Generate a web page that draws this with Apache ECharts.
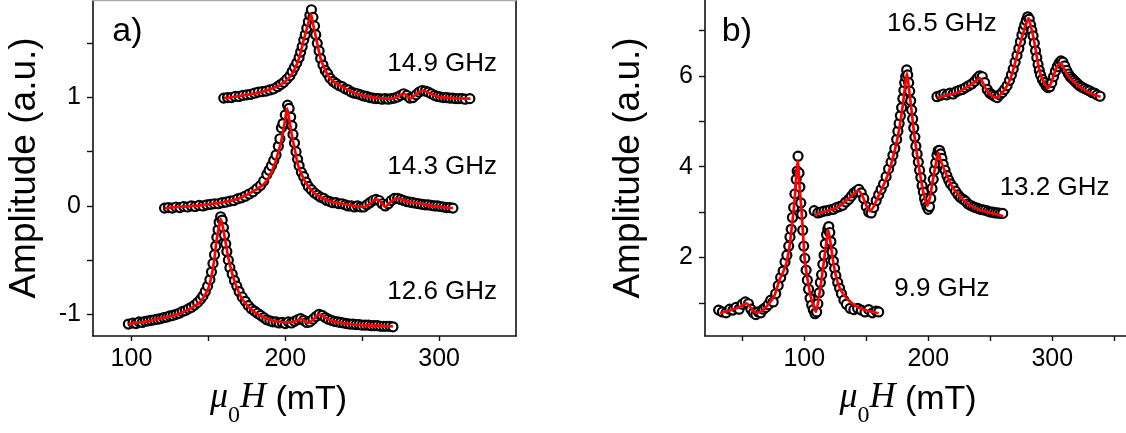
<!DOCTYPE html>
<html>
<head>
<meta charset="utf-8">
<script src="https://cdn.jsdelivr.net/npm/echarts@6/dist/echarts.min.js"></script>
<style>
  html, body { margin: 0; padding: 0; background: #fff; }
  #chart { width: 1126px; height: 433px; }
</style>
</head>
<body>
<div id="chart"></div>
<script>
// ---------- panel a: FMR spectra (measured points and fits), offset per frequency ----------
const freqsA = ['14.9 GHz', '14.3 GHz', '12.6 GHz'];

const meas149 = [[160,0.995],[162.5,1.0],[165,1.0],[167.5,1.01],[170,1.01],[172.5,1.02],[175,1.025],[177.5,1.03],[180,1.04],[182.5,1.05],[185,1.055],[187.5,1.06],[190,1.07],[192.5,1.08],[195,1.1],[197,1.12],[199,1.14],[201,1.17],[203,1.2],[204.5,1.24],[206,1.28],[207.5,1.32],[209,1.37],[210,1.42],[211,1.47],[212,1.53],[213,1.58],[214,1.64],[215,1.7],[216,1.76],[217,1.81],[218,1.74],[219,1.66],[219.8,1.58],[220.8,1.5],[222,1.43],[223,1.36],[224.5,1.3],[226,1.25],[227.5,1.22],[229,1.18],[231,1.15],[233,1.13],[235,1.11],[237,1.1],[239,1.08],[241,1.07],[243,1.05],[245,1.04],[247,1.035],[249,1.025],[251,1.015],[253,1.01],[255,1.0],[257,0.995],[259,0.99],[261,0.99],[263,0.985],[265,0.99],[267,0.985],[269,0.99],[271,0.995],[273,1.005],[275,1.02],[277,1.035],[279,1.02],[281,0.995],[283,1.0],[285,1.025],[287,1.05],[289,1.065],[291,1.06],[293,1.05],[295,1.035],[297,1.02],[299,1.01],[301,1.005],[303,1.0],[305,1.0],[307,0.995],[309,0.995],[311,0.99],[313,0.99],[315,0.99],[317,0.985],[320,0.99]];
const fit149 = [[160,0.995],[168,1.01],[176.8,1.03],[184,1.05],[190.7,1.08],[196,1.11],[200,1.15],[204,1.21],[207,1.29],[209.5,1.39],[211.6,1.51],[213.5,1.61],[215,1.69],[216.7,1.77],[218.2,1.67],[219.7,1.57],[221.5,1.45],[223.2,1.35],[225.5,1.27],[227.9,1.2],[232,1.14],[237,1.1],[242,1.06],[246.4,1.035],[252,1.015],[260,0.995],[268,0.99],[272,1.0],[277,1.035],[279,1.02],[281.3,0.99],[285,1.03],[289.5,1.065],[294,1.04],[300,1.005],[310,0.995],[320.4,0.99]];

const meas143 = [[121.5,-0.02],[124,-0.015],[126.5,-0.02],[129,-0.01],[131.5,-0.015],[134,-0.005],[136.5,-0.01],[139,0.0],[141.5,-0.005],[144,0.005],[146.5,0.0],[149,0.01],[151.5,0.015],[154,0.02],[156.5,0.02],[159,0.03],[161.5,0.035],[164,0.045],[166.5,0.05],[169,0.065],[171.5,0.075],[174,0.09],[176.5,0.11],[179,0.13],[181.5,0.16],[184,0.19],[186,0.23],[188,0.29],[189.5,0.33],[191,0.37],[192.5,0.42],[194,0.47],[195.5,0.55],[196.5,0.62],[197.5,0.72],[198.5,0.76],[200,0.84],[201.5,0.93],[202.5,0.9],[203.5,0.82],[204.3,0.74],[205,0.66],[206,0.58],[207,0.5],[208,0.43],[209,0.37],[210.5,0.31],[212,0.27],[213.5,0.22],[215,0.18],[217,0.15],[219,0.12],[221,0.1],[223,0.08],[225,0.07],[227,0.05],[229,0.04],[231,0.03],[233,0.03],[235,0.02],[237,0.02],[239,0.01],[241,0.0],[243,0.0],[245,-0.01],[247,0.0],[249,-0.01],[251,-0.01],[253,0.01],[255,0.03],[257,0.05],[259,0.06],[261,0.05],[263,0.02],[265,0.0],[267,0.02],[269,0.05],[271,0.07],[273,0.07],[275,0.06],[277,0.05],[279,0.04],[281,0.035],[283,0.03],[285,0.025],[287,0.02],[289,0.015],[291,0.01],[293,0.01],[295,0.005],[297,0.0],[299,0.0],[301,-0.005],[303,-0.01],[305,-0.015],[307,-0.015],[309,-0.02]];
const fit143 = [[121.5,-0.02],[130,-0.01],[140,0.0],[150,0.015],[160,0.035],[170,0.07],[176,0.11],[181,0.15],[186,0.2],[190,0.28],[193,0.38],[195.5,0.5],[197.7,0.62],[199.5,0.76],[201.2,0.9],[203,0.76],[204.7,0.62],[206.5,0.5],[208.2,0.38],[211,0.28],[214,0.2],[218,0.13],[223,0.08],[230,0.04],[237,0.02],[245,0.0],[251,-0.01],[255,0.02],[259,0.06],[262,0.04],[265,-0.01],[268,0.03],[272,0.07],[276,0.06],[280,0.04],[288,0.02],[295,0.0],[302,-0.01],[309,-0.02]];

const meas126 = [[98,-1.09],[101,-1.08],[103,-1.085],[105,-1.07],[107,-1.075],[109,-1.065],[111,-1.06],[113,-1.055],[115,-1.05],[117,-1.045],[119,-1.04],[121,-1.03],[123,-1.025],[125,-1.015],[127,-1.01],[129,-1.0],[131,-0.99],[133,-0.975],[135,-0.965],[137,-0.95],[139,-0.935],[141,-0.915],[143,-0.89],[145,-0.86],[146.5,-0.83],[148,-0.79],[149.5,-0.74],[151,-0.68],[152,-0.61],[153,-0.53],[154,-0.45],[154.8,-0.37],[155.5,-0.29],[156.3,-0.22],[157,-0.15],[158,-0.1],[159,-0.13],[159.8,-0.2],[160.5,-0.27],[161.3,-0.35],[162,-0.42],[163,-0.5],[164,-0.57],[165.5,-0.63],[167,-0.69],[168.5,-0.74],[170,-0.79],[172,-0.84],[174,-0.88],[176,-0.92],[178,-0.95],[180,-0.97],[182,-0.99],[184,-1.01],[186,-1.03],[188,-1.05],[190,-1.06],[192,-1.07],[194,-1.07],[196,-1.08],[198,-1.075],[200,-1.085],[202,-1.07],[204,-1.08],[206,-1.065],[208,-1.05],[210,-1.04],[212,-1.055],[214,-1.075],[216,-1.07],[218,-1.045],[220,-1.02],[222,-1.0],[224,-1.01],[226,-1.03],[228,-1.045],[230,-1.055],[232,-1.065],[234,-1.07],[236,-1.075],[238,-1.08],[240,-1.085],[242,-1.09],[244,-1.09],[246,-1.095],[248,-1.095],[250,-1.1],[252,-1.1],[254,-1.1],[256,-1.105],[258,-1.105],[260,-1.105],[262,-1.11],[264,-1.11],[266,-1.11],[268,-1.11],[270,-1.115]];
const fit126 = [[98,-1.09],[105,-1.075],[110,-1.065],[115,-1.05],[120,-1.035],[125,-1.02],[130,-1.0],[135,-0.97],[140,-0.93],[144,-0.895],[147,-0.84],[150,-0.76],[152,-0.65],[154,-0.48],[155,-0.35],[156.5,-0.22],[158,-0.12],[159.5,-0.2],[161,-0.32],[163,-0.48],[166,-0.65],[169,-0.77],[172,-0.86],[176,-0.93],[180,-0.98],[185,-1.02],[190,-1.05],[195,-1.065],[200,-1.075],[205,-1.07],[208,-1.055],[210.5,-1.045],[213,-1.065],[215,-1.08],[218,-1.05],[222,-1.0],[226,-1.03],[230,-1.06],[240,-1.085],[250,-1.1],[260,-1.105],[270,-1.112]];

// ---------- panel b ----------
const freqsB = ['16.5 GHz', '13.2 GHz', '9.9 GHz'];

const meas165 = [[207,5.54],[210,5.57],[212.5,5.6],[215,5.58],[217.5,5.62],[220,5.6],[222.5,5.65],[225,5.68],[227.5,5.7],[230,5.74],[232.5,5.78],[235,5.82],[237.5,5.88],[239.5,5.95],[241.5,6.0],[243.5,5.98],[245.5,5.85],[247.5,5.7],[249.5,5.62],[251.5,5.58],[253.5,5.55],[255.5,5.52],[257.5,5.58],[259.5,5.63],[261.5,5.7],[263.5,5.78],[265.5,5.9],[267,6.02],[268.5,6.15],[270,6.3],[271.5,6.45],[273,6.6],[274.3,6.75],[275.5,6.9],[276.7,7.02],[277.8,7.12],[279,7.22],[280.2,7.3],[281.4,7.25],[282.5,7.12],[283.5,7.0],[284.5,6.88],[285.5,6.72],[286.5,6.55],[287.5,6.4],[288.5,6.25],[289.5,6.12],[290.5,6.02],[292,5.92],[293.5,5.85],[295,5.78],[296.5,5.74],[298,5.76],[299.5,5.85],[301,5.98],[302.5,6.1],[304,6.2],[305.5,6.28],[307,6.33],[308.5,6.3],[310,6.22],[311.5,6.12],[313,6.04],[314.5,5.98],[316,5.94],[317.5,5.9],[319,5.86],[320.5,5.82],[322,5.78],[324,5.75],[326,5.72],[328,5.69],[330,5.67],[332,5.63],[334,5.62],[336,5.58],[338.5,5.55]];
const fit165 = [[207.3,5.52],[215,5.57],[222.7,5.62],[228,5.7],[234.3,5.8],[238,5.88],[241.5,5.95],[244,5.85],[247,5.68],[251,5.57],[254.6,5.52],[258,5.58],[263.3,5.77],[267,6.0],[270.6,6.35],[273.5,6.65],[276.5,6.94],[278.8,7.15],[280.8,7.27],[283,7.05],[285.2,6.79],[287.3,6.45],[289.5,6.13],[292,5.92],[294.5,5.8],[296.8,5.73],[299.5,5.88],[302.6,6.13],[305,6.25],[306.9,6.28],[309.5,6.15],[312.8,5.99],[317,5.88],[321.5,5.77],[327,5.67],[333.1,5.59],[338.9,5.54]];

const meas132 = [[108,3.03],[111,2.98],[113.5,3.0],[116,3.02],[118.5,3.03],[121,3.05],[123.5,3.06],[126,3.1],[128.5,3.12],[131,3.15],[133.5,3.22],[136,3.28],[138,3.35],[140,3.42],[142,3.46],[144,3.5],[146,3.42],[148,3.3],[150,3.12],[152,3.0],[154,2.98],[156,3.1],[158,3.25],[160,3.38],[162,3.5],[164,3.62],[166,3.78],[168,3.95],[170,4.1],[171.5,4.25],[173,4.4],[174.5,4.6],[175.5,4.78],[176.5,4.95],[177.5,5.12],[178.5,5.3],[179.5,5.5],[180.3,5.68],[181,5.85],[181.8,5.98],[182.6,6.13],[183.4,6.02],[184.2,5.85],[185,5.66],[185.8,5.45],[186.6,5.25],[187.4,5.05],[188.3,4.85],[189.2,4.65],[190,4.45],[191,4.28],[192,4.1],[193,3.92],[194,3.76],[195,3.58],[196,3.44],[197,3.3],[198,3.2],[199,3.12],[200,3.06],[201,3.12],[202,3.3],[203,3.52],[204,3.72],[205,3.92],[206,4.08],[207,4.25],[208,4.35],[209,4.36],[210,4.28],[211,4.18],[212,4.05],[213.5,3.92],[215,3.8],[216.5,3.7],[218,3.62],[220,3.55],[222,3.46],[224,3.38],[226,3.32],[228,3.28],[230,3.24],[232,3.18],[234,3.15],[236,3.12],[238,3.1],[240,3.08],[242,3.06],[244,3.05],[246,3.04],[248,3.02],[250,3.0],[252,3.0],[254,2.98],[256,2.98],[258,2.97],[260,2.97]];
const fit132 = [[108.7,2.94],[115,3.0],[123.9,3.07],[130,3.16],[135.5,3.29],[140,3.4],[143.7,3.47],[147,3.35],[150,3.15],[152.9,3.02],[156,3.12],[158.7,3.29],[162,3.48],[166,3.72],[170,4.05],[173.2,4.38],[176.5,4.82],[179,5.26],[181,5.7],[182.8,6.06],[184.5,5.7],[186.4,5.26],[188.5,4.75],[190.7,4.31],[193,3.9],[195,3.58],[197.2,3.3],[199.4,3.14],[201.5,3.35],[203.8,3.72],[206,4.05],[208.1,4.31],[210.5,4.1],[213.9,3.87],[218,3.62],[222.7,3.43],[228,3.27],[234.3,3.14],[241,3.05],[248.8,2.99],[255,2.95],[260.4,2.91]];

const meas99 = [[31,0.84],[34,0.8],[37,0.78],[40,0.86],[42.5,0.84],[45,0.9],[47.5,0.86],[50,0.97],[52.5,1.02],[55,0.98],[57,0.86],[59,0.78],[61,0.74],[63,0.8],[65,0.78],[67,0.86],[69,0.9],[71,0.96],[73,1.06],[75,1.02],[77,1.2],[79,1.38],[81,1.56],[83,1.7],[84.5,1.9],[86,2.05],[87.5,2.25],[88.5,2.45],[89.5,2.62],[90.5,2.88],[91.5,3.1],[92.5,3.4],[93.5,3.72],[94.3,3.9],[95,4.23],[95.8,3.86],[96.5,3.55],[97.2,3.2],[98,2.95],[98.8,2.6],[99.6,2.25],[100.5,1.98],[101.5,1.72],[102.5,1.5],[103.5,1.3],[104.7,1.1],[106,0.95],[107.3,0.85],[108.7,0.76],[110,0.8],[111,0.98],[112,1.22],[113,1.45],[114,1.62],[115,1.85],[116,2.05],[117,2.3],[118,2.5],[119,2.62],[119.8,2.68],[120.6,2.55],[121.5,2.35],[122.5,2.12],[123.5,1.92],[124.5,1.76],[125.5,1.6],[127,1.45],[128.5,1.32],[130,1.2],[132,1.06],[134,0.97],[137,0.88],[140,0.85],[143,0.88],[146,0.84],[149,0.8],[152,0.85],[155,0.78],[158,0.82],[160,0.8]];
const fit99 = [[32,0.77],[40,0.83],[48,0.91],[53.5,0.99],[57,0.88],[61.5,0.78],[66,0.82],[72,1.0],[76,1.16],[80.4,1.53],[83,1.68],[85.8,1.9],[88,2.22],[89.8,2.63],[91.3,3.0],[92.5,3.36],[94.8,4.12],[96.4,3.5],[97.9,2.99],[99.3,2.4],[100.6,1.9],[102.8,1.5],[105,1.17],[107.2,0.95],[109.4,0.8],[111.7,1.1],[114,1.53],[115.8,1.9],[117.5,2.26],[119.4,2.6],[121,2.35],[123.4,1.9],[126.1,1.53],[129,1.3],[134.2,1.1],[140,0.96],[145,0.88],[152,0.82],[160,0.77]];

// ---------- tick positions ----------
const ticksAx = [100, 150, 200, 250, 300];
const labelsAx = [100, 200, 300];
const ticksAy = [-1, -0.5, 0, 0.5, 1, 1.5];
const labelsAy = [-1, 0, 1];
const ticksBx = [50, 100, 150, 200, 250, 300, 350];
const labelsBx = [100, 200, 300];
const ticksBy = [1, 2, 3, 4, 5, 6, 7];
const labelsBy = [2, 4, 6];

const SANS = '"Liberation Sans", Arial, sans-serif';
const SERIF = '"Liberation Serif", "Times New Roman", serif';

const titleX = '{it|μ}{sub|0}{it|H} (mT)';
const titleRich = {
  it: { fontFamily: SERIF, fontStyle: 'italic', fontSize: 36, lineHeight: 40, verticalAlign: 'top', color: '#000' },
  sub: { fontFamily: SERIF, fontSize: 24, lineHeight: 24, verticalAlign: 'bottom', color: '#000', padding: [0, 0, -8, 0] }
};

function xAxisCfg(grid, min, max, ticks, labels, namePadRight) {
  return {
    type: 'value', gridIndex: grid, position: 'bottom', min: min, max: max,
    axisLine: { onZero: false, lineStyle: { color: '#111', width: 1.6 } },
    axisTick: { show: true, inside: false, length: 5, customValues: ticks, lineStyle: { color: '#111', width: 1.4 } },
    axisLabel: { customValues: labels, fontSize: 25, fontFamily: SANS, color: '#000', margin: 11 },
    splitLine: { show: false },
    name: titleX, nameLocation: 'middle', nameGap: 44,
    nameTextStyle: { fontSize: 34, fontFamily: SANS, color: '#000', rich: titleRich, padding: [0, namePadRight, 0, 0] }
  };
}
function yAxisCfg(grid, min, max, ticks, labels, gap) {
  return {
    type: 'value', gridIndex: grid, position: 'left', min: min, max: max,
    axisLine: { onZero: false, lineStyle: { color: '#111', width: 1.6 } },
    axisTick: { show: true, inside: false, length: 6, customValues: ticks, lineStyle: { color: '#111', width: 1.4 } },
    axisLabel: { customValues: labels, fontSize: 25, fontFamily: SANS, color: '#000', margin: 12 },
    splitLine: { show: false },
    name: 'Amplitude (a.u.)', nameLocation: 'middle', nameGap: gap, nameRotate: 90,
    nameTextStyle: { fontSize: 37, fontFamily: SANS, color: '#000' }
  };
}

function measSeries(data, xi, yi) {
  return {
    type: 'scatter', xAxisIndex: xi, yAxisIndex: yi, data: data,
    symbol: 'circle', symbolSize: 9,
    itemStyle: { color: '#fff', borderColor: '#000', borderWidth: 2.2, opacity: 1 },
    z: 2, silent: true
  };
}
function fitSeries(data, xi, yi) {
  return {
    type: 'line', xAxisIndex: xi, yAxisIndex: yi, data: data,
    showSymbol: false, smooth: 0.25,
    lineStyle: { color: '#ff0000', width: 2.7 },
    z: 3, silent: true
  };
}

const option = {
  animation: false,
  backgroundColor: '#fff',
  grid: [
    { left: 93, top: 0, width: 423, height: 340 },
    { left: 705, top: 0, right: 0, height: 338 }
  ],
  xAxis: [
    xAxisCfg(0, 75, 350, ticksAx, labelsAx, 52),
    { type: 'value', gridIndex: 0, position: 'top', min: 75, max: 350,
      axisLine: { onZero: false, lineStyle: { color: '#aaa', width: 1.4 } },
      axisTick: { show: false }, axisLabel: { show: false }, splitLine: { show: false } },
    xAxisCfg(1, 20, 359.4, ticksBx, labelsBx, 15)
  ],
  yAxis: [
    yAxisCfg(0, -1.2, 1.9, ticksAy, labelsAy, 50),
    { type: 'value', gridIndex: 0, position: 'right', min: -1.2, max: 1.9,
      axisLine: { onZero: false, lineStyle: { color: '#111', width: 1.6 } },
      axisTick: { show: false }, axisLabel: { show: false }, splitLine: { show: false } },
    yAxisCfg(1, 0.27, 7.67, ticksBy, labelsBy, 58)
  ],
  series: [
    measSeries(meas149, 0, 0), fitSeries(fit149, 0, 0),
    measSeries(meas143, 0, 0), fitSeries(fit143, 0, 0),
    measSeries(meas126, 0, 0), fitSeries(fit126, 0, 0),
    measSeries(meas165, 2, 2), fitSeries(fit165, 2, 2),
    measSeries(meas132, 2, 2), fitSeries(fit132, 2, 2),
    measSeries(meas99, 2, 2), fitSeries(fit99, 2, 2)
  ]
};

const chart = echarts.init(document.getElementById('chart'), null, { renderer: 'canvas' });
chart.setOption(option);

// curve annotations, anchored in data coordinates of each panel
const notes = [
  { grid: 0, at: [302, 1.31], text: freqsA[0], size: 26 },
  { grid: 0, at: [302, 0.365], text: freqsA[1], size: 26 },
  { grid: 0, at: [302, -0.79], text: freqsA[2], size: 26 },
  { grid: 1, at: [211, 7.15], text: freqsB[0], size: 26 },
  { grid: 1, at: [301.8, 3.54], text: freqsB[1], size: 26 },
  { grid: 1, at: [211, 1.31], text: freqsB[2], size: 26 },
  { grid: 0, at: [97.4, 1.61], text: 'a)', size: 34 },
  { grid: 1, at: [45.7, 6.97], text: 'b)', size: 34 }
];
chart.setOption({
  graphic: notes.map(n => {
    const p = chart.convertToPixel({ gridIndex: n.grid }, n.at);
    return {
      type: 'text', x: p[0], y: p[1], silent: true, z: 10,
      style: { text: n.text, fill: '#000', font: n.size + 'px ' + SANS, align: 'center', verticalAlign: 'middle' }
    };
  })
});
</script>
</body>
</html>
